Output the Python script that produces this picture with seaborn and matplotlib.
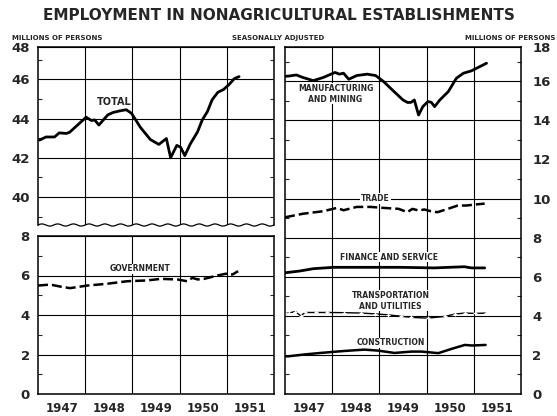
import numpy as np
import matplotlib
matplotlib.use("Agg")
import matplotlib.pyplot as plt
import seaborn as sns

# ---- data (decimal year, millions of persons) ----
total_t = [1947.03, 1947.17, 1947.35, 1947.45, 1947.6, 1947.67, 1948.02, 1948.13, 1948.2,
           1948.29, 1948.48, 1948.59, 1948.73, 1948.87, 1948.98, 1949.17, 1949.38, 1949.56,
           1949.72, 1949.81, 1949.94, 1950.02, 1950.11, 1950.23, 1950.38, 1950.48, 1950.59,
           1950.69, 1950.81, 1950.93, 1951.05, 1951.16, 1951.26]
total_v = [42.9, 43.06, 43.06, 43.27, 43.24, 43.3, 44.07, 43.9, 43.93,
           43.67, 44.19, 44.31, 44.39, 44.45, 44.27, 43.55, 42.93, 42.68,
           42.98, 42.0, 42.63, 42.54, 42.11, 42.72, 43.32, 43.93, 44.36,
           44.96, 45.34, 45.48, 45.74, 46.04, 46.14]

govt_t = [1947.0, 1947.26, 1947.47, 1947.68, 1948.04, 1948.46, 1948.89, 1949.31, 1949.6,
          1949.95, 1950.16, 1950.27, 1950.38, 1950.52, 1950.8, 1950.98, 1951.12, 1951.24]
govt_v = [5.49, 5.54, 5.44, 5.36, 5.49, 5.58, 5.71, 5.75, 5.83,
          5.8, 5.71, 5.88, 5.8, 5.83, 6.0, 6.09, 6.05, 6.22]

mfg_t = [1947.0, 1947.1, 1947.24, 1947.38, 1947.6, 1947.81, 1948.06, 1948.15, 1948.24, 1948.35,
         1948.52, 1948.74, 1948.92, 1949.09, 1949.31, 1949.5, 1949.6, 1949.67, 1949.74,
         1949.83, 1949.92, 1950.03, 1950.1, 1950.17, 1950.28, 1950.46, 1950.63, 1950.78,
         1950.95, 1951.13, 1951.27]
mfg_v = [16.25, 16.27, 16.32, 16.19, 16.03, 16.19, 16.45, 16.36, 16.41, 16.1,
         16.29, 16.36, 16.29, 15.98, 15.47, 15.04, 14.91, 14.92, 15.04,
         14.27, 14.7, 14.96, 14.92, 14.7, 15.04, 15.47, 16.15, 16.41,
         16.53, 16.75, 16.92]

trade_t = [1947.0, 1947.38, 1947.81, 1948.1, 1948.24, 1948.52, 1948.81, 1949.09, 1949.41,
           1949.59, 1949.7, 1949.84, 1949.95, 1950.09, 1950.23, 1950.45, 1950.66, 1950.84,
           1951.02, 1951.23]
trade_v = [9.04, 9.22, 9.35, 9.52, 9.4, 9.57, 9.57, 9.52, 9.47,
           9.3, 9.47, 9.38, 9.44, 9.35, 9.3, 9.47, 9.64, 9.64,
           9.69, 9.74]

fin_t = [1947.0, 1947.31, 1947.6, 1948.03, 1948.74, 1949.45, 1950.16, 1950.8, 1950.95, 1951.23]
fin_v = [6.2, 6.29, 6.41, 6.48, 6.48, 6.48, 6.45, 6.51, 6.45, 6.45]

trans_t = [1947.0, 1947.08, 1947.22, 1947.33, 1947.43, 1947.65, 1947.9, 1948.25, 1948.61, 1948.9,
           1949.18, 1949.45, 1949.68, 1950.03, 1950.39, 1950.6, 1950.81, 1951.03, 1951.25]
trans_v = [4.12, 4.14, 4.22, 4.0, 4.17, 4.17, 4.17, 4.16, 4.14, 4.1,
           4.05, 3.98, 3.92, 3.88, 3.97, 4.09, 4.14, 4.12, 4.14]

cons_t = [1947.0, 1947.08, 1947.4, 1947.75, 1948.25, 1948.68, 1948.97, 1949.32, 1949.68,
          1949.89, 1950.25, 1950.53, 1950.81, 1950.96, 1951.25]
cons_v = [1.93, 1.93, 2.02, 2.1, 2.2, 2.27, 2.22, 2.1, 2.17,
          2.17, 2.09, 2.31, 2.51, 2.48, 2.51]

years = ["1947", "1948", "1949", "1950", "1951"]

sns.set_style("white")
plt.rcParams['font.family'] = ['DejaVu Sans']
plt.rcParams['font.weight'] = 'bold'

W, H = 557, 416
fig = plt.figure(figsize=(W / 100, H / 100), dpi=100)


def px_axes(x0, y0, x1, y1):
    return fig.add_axes([x0 / W, 1 - y1 / H, (x1 - x0) / W, (y1 - y0) / H])


ax_top = px_axes(38, 47, 274, 225)
ax_bot = px_axes(38, 236, 274, 394)
ax_r = px_axes(285, 47, 521, 394)

BOX = dict(facecolor='white', edgecolor='none', pad=0.6)


def setup(ax, ylim, ticks, labels, odd, right=False, xlabels=True):
    ax.set_xlim(1947, 1952)
    ax.set_ylim(*ylim)
    ax.set_yticks(ticks)
    ax.set_yticklabels(labels, fontsize=9.5, fontweight='bold')
    ax.set_yticks(odd, minor=True)
    ax.set_xticks([1948, 1949, 1950, 1951], minor=True)
    if xlabels:
        ax.set_xticks([1947.5, 1948.5, 1949.5, 1950.5, 1951.5])
        ax.set_xticklabels(years, fontsize=8.5, fontweight='bold')
    else:
        ax.set_xticks([])
    ax.grid(True, which='major', axis='y', color='black', lw=0.8)
    ax.grid(True, which='minor', axis='x', color='black', lw=0.8)
    ax.tick_params(which='major', length=0, pad=6)
    ax.tick_params(which='minor', axis='y', direction='in', length=3, width=0.8,
                   left=True, right=True)
    ax.tick_params(which='minor', axis='x', length=0)
    if right:
        ax.yaxis.tick_right()
        ax.tick_params(which='minor', axis='y', direction='in', length=3, left=True, right=True)
        ax.tick_params(which='major', axis='y', pad=8)
    for s in ax.spines.values():
        s.set_color('black')
        s.set_linewidth(1.1)
    ax.set_axisbelow(True)


setup(ax_top, (38.57, 47.65), [40, 42, 44, 46, 47.65], ['40', '42', '44', '46', '48'],
      [39, 41, 43, 45, 47], xlabels=False)
setup(ax_bot, (0, 8), [0, 2, 4, 6, 8], ['0', '2', '4', '6', '8'], [1, 3, 5, 7])
setup(ax_r, (0, 17.75), [0, 2, 4, 6, 8, 10, 12, 14, 16, 17.75],
      ['0', '2', '4', '6', '8', '10', '12', '14', '16', '18'],
      [1, 3, 5, 7, 9, 11, 13, 15, 17], right=True)

# wavy break at the bottom of the upper-left panel
ax_top.spines['bottom'].set_visible(False)
wx = np.linspace(0, 1, 600)
ax_top.plot(wx, 0.006 * np.sin(2 * np.pi * 15 * wx), transform=ax_top.transAxes,
            color='black', lw=0.9, clip_on=False)

# ---- series ----
sns.lineplot(x=total_t, y=total_v, ax=ax_top, color='black', lw=2.0)
sns.lineplot(x=govt_t, y=govt_v, ax=ax_bot, color='black', lw=1.8, linestyle=(0, (4, 1.6)))
sns.lineplot(x=mfg_t, y=mfg_v, ax=ax_r, color='black', lw=2.0)
sns.lineplot(x=trade_t, y=trade_v, ax=ax_r, color='black', lw=1.8, linestyle=(0, (4, 1.6)))
sns.lineplot(x=fin_t, y=fin_v, ax=ax_r, color='black', lw=2.0)
sns.lineplot(x=trans_t, y=trans_v, ax=ax_r, color='black', lw=1.0,
             marker='+', markersize=3.5, markeredgewidth=0.9)
sns.lineplot(x=cons_t, y=cons_v, ax=ax_r, color='black', lw=1.8)

# ---- series labels ----
ax_top.text(1948.62, 44.82, "TOTAL", fontsize=7, fontweight='bold', ha='center', va='center')
ax_bot.text(1949.17, 6.33, "GOVERNMENT", fontsize=5.5, fontweight='bold', ha='center',
            va='center', bbox=BOX)
ax_r.text(1948.07, 15.35, "MANUFACTURING\nAND MINING", fontsize=5.5, fontweight='bold',
          ha='center', va='center', linespacing=1.2, bbox=BOX)
ax_r.text(1948.92, 10.0, "TRADE", fontsize=5.5, fontweight='bold', ha='center',
          va='center', bbox=BOX)
ax_r.text(1949.2, 7.0, "FINANCE AND SERVICE", fontsize=5.5, fontweight='bold', ha='center',
          va='center', bbox=BOX)
ax_r.text(1949.24, 4.76, "TRANSPORTATION\nAND UTILITIES", fontsize=5.5, fontweight='bold',
          ha='center', va='center', linespacing=1.2, bbox=BOX)
ax_r.text(1949.24, 2.61, "CONSTRUCTION", fontsize=5.5, fontweight='bold', ha='center',
          va='center', bbox=BOX)

# ---- headings ----
fig.text(0.5, 1 - 15 / H, "EMPLOYMENT IN NONAGRICULTURAL ESTABLISHMENTS", fontsize=11,
         fontweight='bold', ha='center', va='center')
fig.text(12 / W, 1 - 38 / H, "MILLIONS OF PERSONS", fontsize=5, fontweight='bold',
         ha='left', va='center')
fig.text(278 / W, 1 - 38 / H, "SEASONALLY ADJUSTED", fontsize=5, fontweight='bold',
         ha='center', va='center')
fig.text(555 / W, 1 - 38 / H, "MILLIONS OF PERSONS", fontsize=5, fontweight='bold',
         ha='right', va='center')

fig.savefig("out.png", dpi=100)
